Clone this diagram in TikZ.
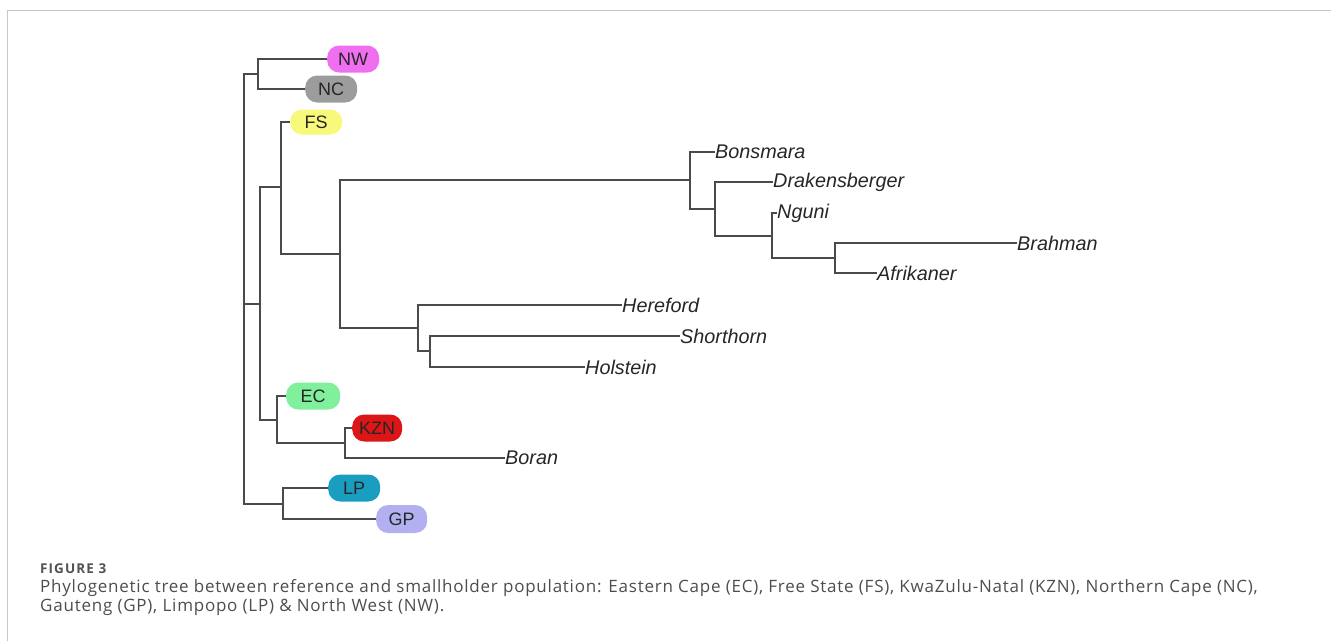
\documentclass[tikz,border=0pt]{standalone}
\usepackage{fontspec}
\setmainfont{Liberation Sans}
\newfontfamily\capfont[LetterSpace=4.5]{Open Sans}
\newfontfamily\figfont[LetterSpace=8]{Open Sans}
\usetikzlibrary{positioning,calc}

\definecolor{branch}{HTML}{4A4A4A}
\definecolor{nwcol}{HTML}{F06EF0}
\definecolor{nccol}{HTML}{9C9C9C}
\definecolor{fscol}{HTML}{F8F87A}
\definecolor{eccol}{HTML}{80F09C}
\definecolor{kzncol}{HTML}{DC1616}
\definecolor{lpcol}{HTML}{1A9EC0}
\definecolor{gpcol}{HTML}{B2B0F0}
\definecolor{captext}{HTML}{4D4D4D}
\definecolor{framecol}{HTML}{C8C8C8}

\begin{document}
\begin{tikzpicture}[
  x=1pt, y=-1pt,
  edge/.style={draw=branch, line width=1.4pt},
  breed/.style={anchor=west, inner sep=0pt, font=\fontsize{19.8}{19.8}\selectfont\itshape, text=black!85},
  region/.style={anchor=west, rectangle, rounded corners=12pt, inner sep=0pt,
    minimum width=52pt, minimum height=27pt, font=\fontsize{18}{18}\selectfont, text=black!85},
  caption/.style={anchor=base west, inner sep=0pt, text=captext, font=\capfont\fontsize{17}{17}\selectfont}
]
\useasboundingbox (0,0) rectangle (1331,641);

% Frame
\draw[framecol, line width=0.8pt] (7,641) -- (7,10) -- (1331,10);

% Inner branch points
\coordinate (root) at (244,304);
\coordinate (nwnc) at (258,74);
\coordinate (mid) at (260,304);
\coordinate (fsbreed) at (281,187);
\coordinate (breeds) at (340,254);
\coordinate (bonsc) at (690,180);
\coordinate (drakc) at (715,209);
\coordinate (ngunc) at (772,236);
\coordinate (brahc) at (835,258);
\coordinate (herec) at (418,328);
\coordinate (shortc) at (430,351);
\coordinate (eckzn) at (277,420);
\coordinate (kznc) at (345,443);
\coordinate (lpgp) at (283,504);

% Regions
\node[region, fill=nwcol] (NW) at (327,59) {NW};
\node[region, fill=nccol] (NC) at (305,89) {NC};
\node[region, fill=fscol, minimum height=25pt] (FS) at (290,122) {FS};
\node[region, fill=eccol, minimum width=54pt] (EC) at (286,396) {EC};
\node[region, fill=kzncol, minimum width=50pt] (KZN) at (352,428) {KZN};
\node[region, fill=lpcol] (LP) at (328,488) {LP};
\node[region, fill=gpcol, minimum width=51pt, minimum height=28pt] (GP) at (376,519) {GP};

% Breeds
\node[breed] (bons) at (715,152) {Bonsmara};
\node[breed] (drak) at (773,182) {Drakensberger};
\node[breed] (ngun) at (777,213) {Nguni};
\node[breed] (brah) at (1017,243) {Brahman};
\node[breed] (afri) at (877,273) {Afrikaner};
\node[breed] (here) at (622,305) {Hereford};
\node[breed] (short) at (680,336) {Shorthorn};
\node[breed] (hols) at (585,367) {Holstein};
\node[breed] (bora) at (505,458) {Boran};

% Branches
\draw[edge] (root) |- (nwnc);
\draw[edge] (root) -- (mid);
\draw[edge] (root) |- (lpgp);
\draw[edge] (nwnc) |- (NW.west);
\draw[edge] (nwnc) |- (NC.west);
\draw[edge] (mid) |- (fsbreed);
\draw[edge] (mid) |- (eckzn);
\draw[edge] (fsbreed) |- (FS.west);
\draw[edge] (fsbreed) |- (breeds);
\draw[edge] (breeds) |- (bonsc);
\draw[edge] (breeds) |- (herec);
\draw[edge] (bonsc) |- (bons.west);
\draw[edge] (bonsc) |- (drakc);
\draw[edge] (drakc) |- (drak.west);
\draw[edge] (drakc) |- (ngunc);
\draw[edge] (ngunc) |- (ngun.west);
\draw[edge] (ngunc) |- (brahc);
\draw[edge] (brahc) |- (brah.west);
\draw[edge] (brahc) |- (afri.west);
\draw[edge] (herec) |- (here.west);
\draw[edge] (herec) |- (shortc);
\draw[edge] (shortc) |- (short.west);
\draw[edge] (shortc) |- (hols.west);
\draw[edge] (eckzn) |- (EC.west);
\draw[edge] (eckzn) |- (kznc);
\draw[edge] (kznc) |- (KZN.west);
\draw[edge] (kznc) |- (bora.west);
\draw[edge] (lpgp) |- (LP.west);
\draw[edge] (lpgp) |- (GP.west);

% Caption
\node[caption, text=black!68, font=\figfont\fontsize{13.5}{13.5}\selectfont\bfseries] (fig) at (40,573) {FIGURE 3};
\node[caption] (cap1) at (40,592) {Phylogenetic tree between reference and smallholder population: Eastern Cape (EC), Free State (FS), KwaZulu-Natal (KZN), Northern Cape (NC),};
\node[caption] (cap2) at (40,611) {Gauteng (GP), Limpopo (LP) \& North West (NW).};
\end{tikzpicture}
\end{document}
